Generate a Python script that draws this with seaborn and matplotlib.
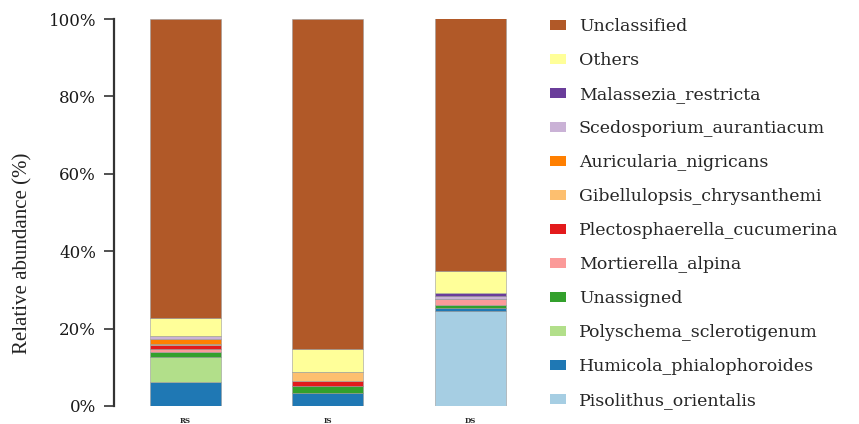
import matplotlib
matplotlib.use("Agg")
import matplotlib.pyplot as plt
from matplotlib.patches import Patch
import pandas as pd
import seaborn as sns

# Samples along the x axis
samples = ["RS", "IS", "DS"]

# Taxa, top of stack first (legend order)
taxa = [
    "Unclassified",
    "Others",
    "Malassezia_restricta",
    "Scedosporium_aurantiacum",
    "Auricularia_nigricans",
    "Gibellulopsis_chrysanthemi",
    "Plectosphaerella_cucumerina",
    "Mortierella_alpina",
    "Unassigned",
    "Polyschema_sclerotigenum",
    "Humicola_phialophoroides",
    "Pisolithus_orientalis",
]

colors = [
    "#B15928", "#FFFF99", "#6A3D9A", "#CAB2D6", "#FF7F00", "#FDBF6F",
    "#E31A1C", "#FB9A99", "#33A02C", "#B2DF8A", "#1F78B4", "#A6CEE3",
]

# Relative abundance (%) per sample, same order as taxa
rs_values = [77.3, 4.6, 0.0, 0.8, 1.5, 0.1, 1.2, 0.6, 1.3, 6.5, 6.2, 0.0]
is_values = [85.3, 6.0, 0.0, 0.0, 0.0, 2.2, 1.4, 0.0, 1.8, 0.0, 3.3, 0.0]
ds_values = [65.3, 5.6, 0.7, 0.85, 0.0, 0.0, 0.0, 1.6, 0.7, 0.0, 0.9, 24.5]

records = []
for s, vals in zip(samples, [rs_values, is_values, ds_values]):
    for t, v in zip(taxa, vals):
        records.append({"sample": s, "taxon": t, "abundance": v})
df = pd.DataFrame(records)

sns.set_theme(style="white")
serif = "DejaVu Serif"

fig = plt.figure(figsize=(8.59, 4.24), dpi=100)
ax = fig.add_axes([114 / 859, 18 / 424, (541.5 - 114) / 859, (406 - 19) / 424])

palette = dict(zip(taxa, colors))
sns.histplot(
    data=df, x="sample", weights="abundance", hue="taxon",
    hue_order=taxa, palette=palette, multiple="stack", discrete=True,
    shrink=0.5, alpha=1, edgecolor="#9a9a9a", linewidth=0.4,
    legend=False, ax=ax,
)

ax.set_xlim(-0.5, 2.5)
ax.set_ylim(0, 100)
ax.set_yticks([0, 20, 40, 60, 80, 100])
ax.set_yticklabels(["0%", "20%", "40%", "60%", "80%", "100%"],
                   fontfamily=serif, fontsize=12, color="#1a1a1a")
ax.set_xticks(range(len(samples)))
ax.set_xticklabels(samples, fontfamily=serif, fontsize=5, fontweight="bold")
ax.tick_params(axis="y", left=True, length=7, width=1.2, color="#333333", pad=6)
ax.tick_params(axis="x", bottom=False, pad=2)
ax.set_xlabel("")
ax.set_ylabel("Relative abundance (%)", fontfamily="Liberation Serif",
              fontsize=15, color="#222222")
ax.yaxis.set_label_coords(-0.19, 0.395)

for side in ["top", "right", "bottom"]:
    ax.spines[side].set_visible(False)
ax.spines["left"].set_color("#333333")
ax.spines["left"].set_linewidth(1.6)

handles = [Patch(facecolor=c, edgecolor="none") for c in colors]
fig.legend(
    handles, taxa, loc="upper left", bbox_to_anchor=(550 / 859, 1 - 18 / 424),
    frameon=False, prop={"family": serif, "size": 12.5},
    handlelength=0.95, handleheight=0.55, handletextpad=0.72,
    labelspacing=0.98, borderpad=0, borderaxespad=0,
)

fig.savefig("out.png", dpi=100)
